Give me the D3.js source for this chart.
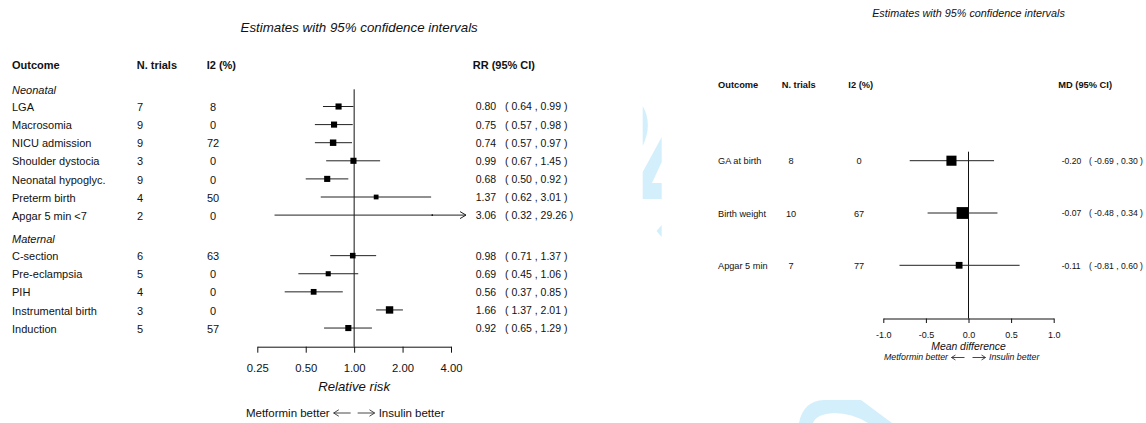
<!DOCTYPE html>
<html><head><meta charset="utf-8">
<script src="https://cdn.jsdelivr.net/npm/d3@7"></script>
<style>
body{margin:0;background:#fff}
svg{display:block;font-family:"Liberation Sans",Arial,Helvetica,sans-serif}
</style>
</head><body>
<svg id="chart" width="1146" height="423"></svg>
<script>
// ---------------- DATA ----------------
const titleText = "Estimates with 95% confidence intervals";

// Left panel: relative risks
const rrGroups   = ["Neonatal", "Maternal"];
const rrOutcomes = ["LGA","Macrosomia","NICU admission","Shoulder dystocia","Neonatal hypoglyc.","Preterm birth","Apgar 5 min <7",
                    "C-section","Pre-eclampsia","PIH","Instrumental birth","Induction"];
const rrGroupOf  = ["Neonatal","Neonatal","Neonatal","Neonatal","Neonatal","Neonatal","Neonatal",
                    "Maternal","Maternal","Maternal","Maternal","Maternal"];
const rrTrials   = [7, 9, 9, 3, 9, 4, 2, 6, 5, 4, 3, 5];
const rrI2       = [8, 0, 72, 0, 0, 50, 0, 63, 0, 0, 0, 57];
const rrEst      = [0.80, 0.75, 0.74, 0.99, 0.68, 1.37, 3.06, 0.98, 0.69, 0.56, 1.66, 0.92];
const rrLow      = [0.64, 0.57, 0.57, 0.67, 0.50, 0.62, 0.32, 0.71, 0.45, 0.37, 1.37, 0.65];
const rrHigh     = [0.99, 0.98, 0.97, 1.45, 0.92, 3.01, 29.26, 1.37, 1.06, 0.85, 2.01, 1.29];
const rrWeight   = [36, 36, 40, 36, 36, 22, 2, 30, 25, 32, 53, 36];   // relative weights (box area)
const rrTicks    = [0.25, 0.5, 1, 2, 4];
const rrHeaders  = ["Outcome", "N. trials", "I2 (%)", "RR (95% CI)"];
const rrAxisTitle = "Relative risk";
const favourLeft = "Metformin better", favourRight = "Insulin better";

// Right panel: mean differences
const mdOutcomes = ["GA at birth", "Birth weight", "Apgar 5 min"];
const mdTrials   = [8, 10, 7];
const mdI2       = [0, 67, 77];
const mdEst      = [-0.20, -0.07, -0.11];
const mdLow      = [-0.69, -0.48, -0.81];
const mdHigh     = [0.30, 0.34, 0.60];
const mdWeight   = [100, 137, 45];
const mdTicks    = [-1.0, -0.5, 0.0, 0.5, 1.0];
const mdHeaders  = ["Outcome", "N. trials", "I2 (%)", "MD (95% CI)"];
const mdAxisTitle = "Mean difference";

// ---------------- DRAW ----------------
const svg = d3.select("#chart");
const ink = "#111";
const wm = "#d3effc";

// faint background watermark fragments
const wmG = svg.append("g").attr("fill", wm);
wmG.append("path").attr("d","M642.7,106 Q653,124 642.7,146 Z");
wmG.append("path").attr("d","M642.7,172 L661.7,137 L661.7,162 L652,183 L661.7,183 L661.7,199 L642.7,199 Z");
wmG.append("path").attr("d","M656.5,231 L661.7,225 L661.7,237 Z");
wmG.append("path").attr("d","M799,423 Q803,401 824,400 L861,400 L892,423 L868,423 Q852,413 834,413 Q816,414 813,423 Z");

function txt(g, x, y, s, opt) {
  const t = g.append("text").attr("x", x).attr("y", y).attr("dy", "0.35em")
    .attr("fill", ink).text(s)
    .attr("font-size", opt.size)
    .attr("text-anchor", opt.anchor || "start");
  if (opt.bold) t.attr("font-weight", "bold");
  if (opt.italic) t.attr("font-style", "italic");
  return t;
}

// ===== LEFT PANEL =====
const L = svg.append("g");
const xL = d3.scaleLog().base(2).domain([0.25, 4]).range([257.3, 451]);
const yL = d3.scaleLinear().domain([0, 1]).range([106.5, 124.6]);
const sizeL = d3.scaleSqrt().domain([0, 53]).range([0, 7.4]);

// row positions (group gap)
let pos = 0; const rowPos = []; const headPos = {};
rrGroups.forEach((g, gi) => {
  if (gi > 0) pos += 1.24;
  headPos[g] = pos - 0.95;
  rrOutcomes.forEach((o, i) => { if (rrGroupOf[i] === g) { rowPos[i] = pos; pos += 1; } });
});

const colL = {out: 12, n: 137, i2: 213, est: 475.7, ci: 505};
const fsL = 11;
txt(L, (xL.range()[0] + xL.range()[1]) / 2 + 5, 27.5, titleText, {size: 13.3, italic: true, anchor: "middle"});
txt(L, colL.out, 65.5, rrHeaders[0], {size: fsL, bold: true});
txt(L, 136.7, 65.5, rrHeaders[1], {size: fsL, bold: true});
txt(L, 206.7, 65.5, rrHeaders[2], {size: fsL, bold: true});
txt(L, 472.7, 65.5, rrHeaders[3], {size: fsL, bold: true});

rrGroups.forEach(g => txt(L, colL.out, yL(headPos[g]) + 0.8, g, {size: fsL, italic: true}));

const axisYL = 346.7;
// null line
L.append("line").attr("x1", xL(1)).attr("x2", xL(1))
  .attr("y1", yL(headPos[rrGroups[0]])).attr("y2", axisYL)
  .attr("stroke", ink).attr("stroke-width", 1);

rrOutcomes.forEach((o, i) => {
  const y = yL(rowPos[i]);
  txt(L, colL.out, y + 0.8, o, {size: fsL});
  txt(L, colL.n, y + 0.8, rrTrials[i], {size: fsL});
  txt(L, colL.i2, y + 0.8, rrI2[i], {size: fsL, anchor: "middle"});
  txt(L, colL.est, y + 0.3, rrEst[i].toFixed(2), {size: 10.5});
  txt(L, colL.ci, y + 0.3, "( " + rrLow[i].toFixed(2) + " , " + rrHigh[i].toFixed(2) + " )", {size: 10.5});
  const maxX = xL.range()[1] + 15;
  const x1 = xL(rrLow[i]);
  const over = rrHigh[i] > xL.domain()[1];
  const x2 = over ? maxX : xL(rrHigh[i]);
  L.append("line").attr("x1", x1).attr("x2", x2).attr("y1", y).attr("y2", y)
    .attr("stroke", "#222").attr("stroke-width", 1);
  if (over) {
    L.append("path").attr("d", `M${x2 - 6},${y - 3.5} L${x2},${y} L${x2 - 6},${y + 3.5}`)
      .attr("fill", "none").attr("stroke", "#222").attr("stroke-width", 1);
  }
  const s = sizeL(rrWeight[i]);
  L.append("rect").attr("x", xL(rrEst[i]) - s / 2).attr("y", y - s / 2)
    .attr("width", s).attr("height", s).attr("fill", "#000");
});

const axL = L.append("g").attr("transform", `translate(0,${axisYL})`)
  .call(d3.axisBottom(xL).tickValues(rrTicks).tickFormat(d => d.toFixed(2))
    .tickSize(6).tickSizeOuter(0).tickPadding(11));
axL.select(".domain").attr("stroke", ink);
axL.selectAll(".tick line").attr("stroke", ink);
axL.selectAll(".tick text").attr("font-size", 11.3).attr("font-family", "Liberation Sans, Arial, sans-serif").attr("fill", ink);

txt(L, xL(1), 386.7, rrAxisTitle, {size: 13.2, italic: true, anchor: "middle"});

function favour(g, cx, y, size, italic, gapIn, arrowLen, gapOut) {
  const a1 = cx - gapIn, a2 = cx + gapIn;
  txt(g, a1 - arrowLen - gapOut, y, favourLeft, {size: size, italic: italic, anchor: "end"});
  txt(g, a2 + arrowLen + gapOut, y, favourRight, {size: size, italic: italic});
  const yy = y + 0.5;
  const h = size * 0.28;
  g.append("path").attr("d", `M${a1},${yy} L${a1 - arrowLen},${yy} M${a1 - arrowLen + h * 1.6},${yy - h} L${a1 - arrowLen},${yy} L${a1 - arrowLen + h * 1.6},${yy + h}`)
    .attr("fill", "none").attr("stroke", "#333").attr("stroke-width", 0.9);
  g.append("path").attr("d", `M${a2},${yy} L${a2 + arrowLen},${yy} M${a2 + arrowLen - h * 1.6},${yy - h} L${a2 + arrowLen},${yy} L${a2 + arrowLen - h * 1.6},${yy + h}`)
    .attr("fill", "none").attr("stroke", "#333").attr("stroke-width", 0.9);
}
favour(L, xL(1), 412.5, 11.5, false, 3.5, 17, 4);

// ===== RIGHT PANEL =====
const R = svg.append("g");
const xR = d3.scaleLinear().domain([-1, 1]).range([883.3, 1053.7]);
const yR = d3.scaleLinear().domain([0, 1]).range([160.7, 213]);
const sizeR = d3.scaleSqrt().domain([0, 137]).range([0, 11.8]);
const fsR = 9.2;

txt(R, xR(0), 13, titleText, {size: 10.8, italic: true, anchor: "middle"});
txt(R, 718, 84.5, mdHeaders[0], {size: 9.3, bold: true});
txt(R, 781.7, 84.5, mdHeaders[1], {size: 9.3, bold: true});
txt(R, 848.3, 84.5, mdHeaders[2], {size: 9.3, bold: true});
txt(R, 1058.3, 84.5, mdHeaders[3], {size: 9.3, bold: true});

const axisYR = 318.5;
R.append("line").attr("x1", xR(0)).attr("x2", xR(0))
  .attr("y1", yR(0) - 9).attr("y2", axisYR)
  .attr("stroke", ink).attr("stroke-width", 1);

mdOutcomes.forEach((o, i) => {
  const y = yR(i);
  txt(R, 718, y + 0.5, o, {size: fsR});
  txt(R, 791, y + 0.5, mdTrials[i], {size: fsR, anchor: "middle"});
  txt(R, 859, y + 0.5, mdI2[i], {size: fsR, anchor: "middle"});
  txt(R, 1061.7, y + 0.3, mdEst[i].toFixed(2), {size: 8.6});
  txt(R, 1089, y + 0.3, "( " + mdLow[i].toFixed(2) + " , " + mdHigh[i].toFixed(2) + " )", {size: 8.6});
  R.append("line").attr("x1", xR(mdLow[i])).attr("x2", xR(mdHigh[i])).attr("y1", y).attr("y2", y)
    .attr("stroke", "#222").attr("stroke-width", 1);
  const s = sizeR(mdWeight[i]);
  R.append("rect").attr("x", xR(mdEst[i]) - s / 2).attr("y", y - s / 2)
    .attr("width", s).attr("height", s).attr("fill", "#000");
});

const axR = R.append("g").attr("transform", `translate(0,${axisYR})`)
  .call(d3.axisBottom(xR).tickValues(mdTicks).tickFormat(d => d.toFixed(1))
    .tickSize(4.5).tickSizeOuter(0).tickPadding(8.2));
axR.select(".domain").attr("stroke", ink);
axR.selectAll(".tick line").attr("stroke", ink);
axR.selectAll(".tick text").attr("font-size", 9).attr("font-family", "Liberation Sans, Arial, sans-serif").attr("fill", ink);

txt(R, xR(0), 346.2, mdAxisTitle, {size: 10.4, italic: true, anchor: "middle"});
favour(R, xR(0), 357, 8.8, true, 4, 13, 3.5);
</script>
</body></html>
